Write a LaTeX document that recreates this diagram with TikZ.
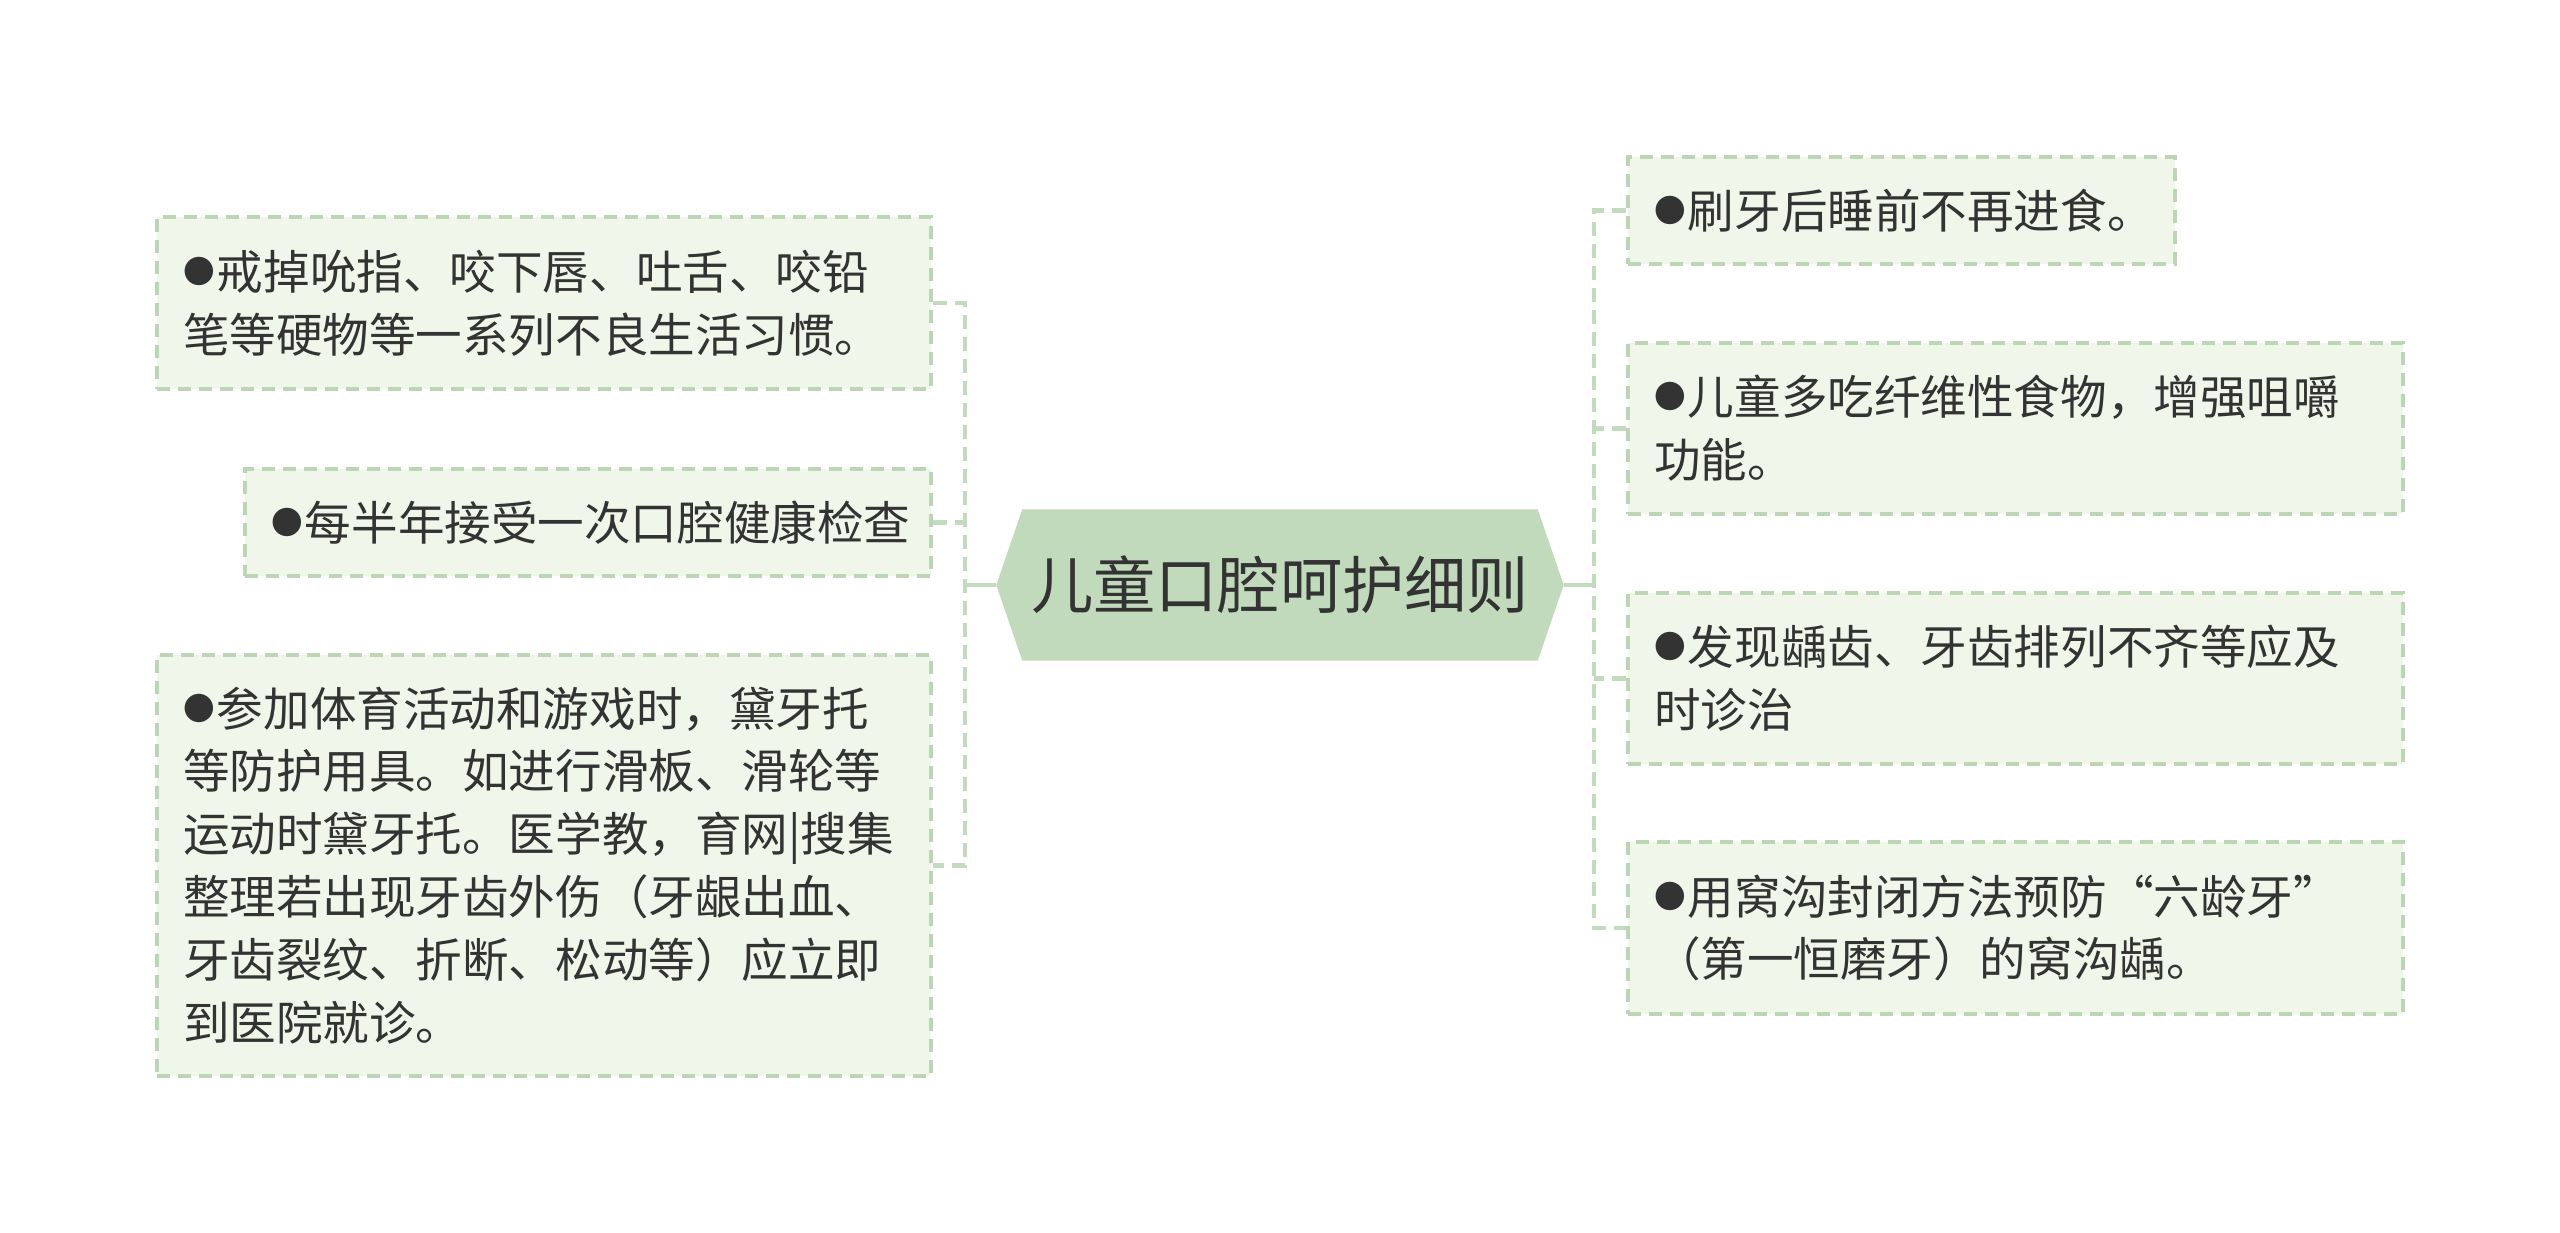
\documentclass[tikz,border=0pt]{standalone}
\usepackage{fontspec}
\newfontfamily\cjk{Noto Sans CJK SC}
\usepackage{tikz}
\usetikzlibrary{positioning,backgrounds}
\definecolor{rootfill}{HTML}{C1DABC}
\definecolor{leaffill}{HTML}{F0F6E9}
\definecolor{leafline}{HTML}{BCD5B4}
\definecolor{linkline}{HTML}{C3DBBD}
\definecolor{txt}{HTML}{333333}
\newcommand{\bulletdot}{\raisebox{0.13em}{\fontsize{9pt}{0pt}\selectfont ●}\kern0.05em}
\tikzset{
  root/.style={rectangle, minimum width=5.66cm, minimum height=1.5cm, inner sep=0pt, font=\cjk\fontsize{17.7pt}{20pt}\selectfont, text=txt},
  leaf/.style={draw=leafline, fill=leaffill, dash pattern=on 0.13cm off 0.08cm, line width=0.9pt, rectangle, align=left, inner xsep=0.26cm, inner ysep=0pt, font=\cjk\fontsize{13.25pt}{17.9pt}\selectfont, text=txt},
  link/.style={draw=linkline, line width=1.3pt, dash pattern=on 0.14cm off 0.08cm}
}

\begin{document}
\begin{tikzpicture}
  \useasboundingbox (0,0) rectangle (25.6,-12.33);
  \node[root] (root) at (12.80,-5.85) {儿童口腔呵护细则};
  % left side
  \node[leaf, text width=7.22cm, minimum height=1.72cm] (l1) at (5.44,-3.03) {\bulletdot 戒掉吮指、咬下唇、吐舌、咬铅\\笔等硬物等一系列不良生活习惯。};
  \node[leaf, text width=6.34cm, minimum height=1.07cm] (l2) at (5.88,-5.225) {\bulletdot 每半年接受一次口腔健康检查};
  \node[leaf, text width=7.22cm, minimum height=4.21cm] (l3) at (5.44,-8.655) {\bulletdot 参加体育活动和游戏时，黛牙托\\等防护用具。如进行滑板、滑轮等\\运动时黛牙托。医学教，育网|搜集\\整理若出现牙齿外伤（牙龈出血、\\牙齿裂纹、折断、松动等）应立即\\到医院就诊。};
  % right side
  \node[leaf, text width=4.95cm, minimum height=1.07cm] (r1) at (19.015,-2.105) {\bulletdot 刷牙后睡前不再进食。};
  \node[leaf, text width=7.23cm, minimum height=1.71cm] (r2) at (20.155,-4.285) {\bulletdot 儿童多吃纤维性食物，增强咀嚼\\功能。};
  \node[leaf, text width=7.23cm, minimum height=1.71cm] (r3) at (20.155,-6.785) {\bulletdot 发现龋齿、牙齿排列不齐等应及\\时诊治};
  \node[leaf, text width=7.23cm, minimum height=1.72cm] (r4) at (20.155,-9.28) {\bulletdot 用窝沟封闭方法预防“六龄牙”\\（第一恒磨牙）的窝沟龋。};
  \coordinate (lj) at (9.65,-5.85);
  \coordinate (rj) at (15.94,-5.85);
  \begin{scope}[on background layer]
    \fill[white] (0,0) rectangle (25.6,-12.33);
    \fill[rootfill] (root.west) -- ([xshift=0.26cm]root.north west) -- ([xshift=-0.26cm]root.north east)
      -- (root.east) -- ([xshift=-0.26cm]root.south east) -- ([xshift=0.26cm]root.south west) -- cycle;
  \end{scope}
  \draw[link, solid] (root.west) -- (lj);
  \draw[link] (l1.east) -| (lj) |- (l3.east);
  \draw[link] (l2.east) -- (l2.east -| lj);
  \draw[link, solid] (root.east) -- (rj);
  \draw[link] (r1.west) -| (rj) |- (r4.west);
  \draw[link] (r2.west) -- (r2.west -| rj);
  \draw[link] (r3.west) -- (r3.west -| rj);
\end{tikzpicture}
\end{document}
